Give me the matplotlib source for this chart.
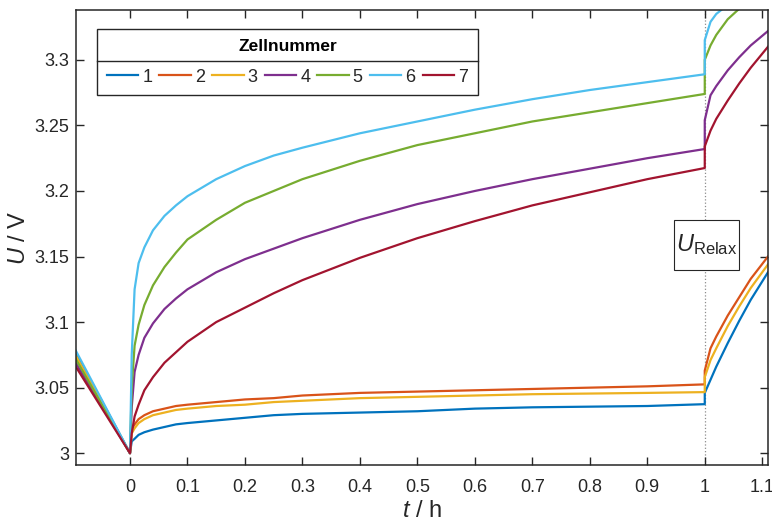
import matplotlib
matplotlib.use("Agg")
import matplotlib.pyplot as plt
from matplotlib.lines import Line2D
from matplotlib.patches import Rectangle

# time axis (h) shared by all cells; 1.0 appears twice for the jump at relaxation start
t = [-0.1, 0, 0.003, 0.008, 0.015, 0.025, 0.04, 0.06, 0.08, 0.1, 0.15, 0.2, 0.25, 0.3,
     0.4, 0.5, 0.6, 0.7, 0.8, 0.9, 1.0, 1.0, 1.01, 1.02, 1.04, 1.06, 1.08, 1.11]

u_cell1 = [3.081, 3.000, 3.009, 3.011, 3.014, 3.016, 3.018, 3.020, 3.022, 3.023, 3.025, 3.027,
           3.029, 3.030, 3.031, 3.032, 3.034, 3.035, 3.0355, 3.036, 3.0374, 3.046, 3.056, 3.066,
           3.084, 3.101, 3.117, 3.138]
u_cell2 = [3.077, 3.000, 3.018, 3.022, 3.026, 3.029, 3.032, 3.034, 3.036, 3.037, 3.039, 3.041,
           3.042, 3.044, 3.046, 3.047, 3.048, 3.049, 3.050, 3.051, 3.0525, 3.063, 3.080, 3.089,
           3.105, 3.119, 3.133, 3.150]
u_cell3 = [3.079, 3.000, 3.015, 3.019, 3.023, 3.026, 3.029, 3.031, 3.033, 3.034, 3.036, 3.037,
           3.039, 3.040, 3.042, 3.043, 3.044, 3.045, 3.0455, 3.046, 3.0466, 3.058, 3.071, 3.080,
           3.097, 3.112, 3.126, 3.144]
u_cell4 = [3.073, 3.000, 3.035, 3.062, 3.075, 3.088, 3.099, 3.110, 3.118, 3.125, 3.138, 3.148,
           3.156, 3.164, 3.178, 3.190, 3.200, 3.209, 3.217, 3.225, 3.232, 3.254, 3.273, 3.280,
           3.292, 3.302, 3.311, 3.322]
u_cell5 = [3.076, 3.000, 3.050, 3.082, 3.098, 3.113, 3.128, 3.142, 3.153, 3.163, 3.178, 3.191,
           3.200, 3.209, 3.223, 3.235, 3.244, 3.253, 3.260, 3.267, 3.274, 3.300, 3.311, 3.319,
           3.331, 3.339, 3.347, 3.357]
u_cell6 = [3.083, 3.000, 3.075, 3.125, 3.145, 3.157, 3.170, 3.181, 3.189, 3.196, 3.209, 3.219,
           3.227, 3.233, 3.244, 3.253, 3.262, 3.270, 3.277, 3.283, 3.289, 3.315, 3.329, 3.335,
           3.342, 3.348, 3.354, 3.362]
u_cell7 = [3.070, 3.000, 3.015, 3.028, 3.037, 3.048, 3.058, 3.069, 3.077, 3.085, 3.100, 3.111,
           3.122, 3.132, 3.149, 3.164, 3.177, 3.189, 3.199, 3.209, 3.2175, 3.234, 3.246, 3.255,
           3.269, 3.282, 3.294, 3.310]

cells = ["1", "2", "3", "4", "5", "6", "7"]
series = [u_cell1, u_cell2, u_cell3, u_cell4, u_cell5, u_cell6, u_cell7]
colors = ["#0072BD", "#D95319", "#EDB120", "#7E2F8E", "#77AC30", "#4DBEEE", "#A2142F"]

xticks = [0, 0.1, 0.2, 0.3, 0.4, 0.5, 0.6, 0.7, 0.8, 0.9, 1.0, 1.1]
xticklabels = ["0", "0.1", "0.2", "0.3", "0.4", "0.5", "0.6", "0.7", "0.8", "0.9", "1", "1.1"]
yticks = [3.0, 3.05, 3.1, 3.15, 3.2, 3.25, 3.3]
yticklabels = ["3", "3.05", "3.1", "3.15", "3.2", "3.25", "3.3"]

plt.rcParams["font.family"] = ["Liberation Sans", "DejaVu Sans"]
plt.rcParams["mathtext.fontset"] = "custom"
plt.rcParams["mathtext.rm"] = "Liberation Sans"
plt.rcParams["mathtext.it"] = "Liberation Sans:italic"

dark = "#262626"

fig = plt.figure(figsize=(7.72, 5.28), dpi=100)
ax = fig.add_axes([0.0984, 0.1193, 0.8964, 0.8617])

ax.axvline(1.0, color="#8c8c8c", linestyle=":", linewidth=0.9, zorder=1)

for name, u, c in zip(cells, series, colors):
    ax.plot(t, u, color=c, linewidth=1.6, label=name, zorder=2)

ax.set_xlim(-0.094, 1.11)
ax.set_ylim(2.991, 3.338)
ax.set_xticks(xticks)
ax.set_xticklabels(xticklabels)
ax.set_yticks(yticks)
ax.set_yticklabels(yticklabels)
ax.tick_params(direction="in", length=5.5, width=1.0, top=True, right=True,
               colors=dark, labelsize=13)
ax.tick_params(axis="x", pad=10)
ax.tick_params(axis="y", pad=5)
for sp in ax.spines.values():
    sp.set_color(dark)
    sp.set_linewidth(1.1)

ax.set_xlabel("$t$ / h", fontsize=17, color=dark, labelpad=3)
ax.set_ylabel("$U$ / V", fontsize=17, color=dark, labelpad=3)

# boxed marker for the relaxation voltage
ax.add_patch(Rectangle((0.864, 0.429), 0.094, 0.109, transform=ax.transAxes,
                       fc="white", ec=dark, lw=0.8, zorder=4))
ax.text(0.911, 0.4835, r"$U_{\mathrm{Relax}}$", transform=ax.transAxes, fontsize=17,
        color=dark, ha="center", va="center", zorder=5)

leg = ax.legend(ncol=7, loc="upper left", bbox_to_anchor=(0.030, 0.813, 0.551, 0.145),
                mode="expand", title="Zellnummer", fontsize=13,
                title_fontproperties={"weight": "bold", "size": 12.5},
                handlelength=1.75, handletextpad=0.22, borderpad=0.55, labelspacing=0.8,
                fancybox=False, framealpha=1.0, edgecolor=dark, borderaxespad=0)
leg.get_frame().set_linewidth(1.0)
for txt in leg.get_texts():
    txt.set_color(dark)

# horizontal rule between the legend title and its entries
fig.canvas.draw()
inv = fig.transFigure.inverted()
lb = leg.get_frame().get_window_extent()
tb = leg.get_title().get_window_extent()
eb = leg.get_texts()[0].get_window_extent()
ysep = (tb.y0 + eb.y1) / 2
(x0, y0) = inv.transform((lb.x0, ysep))
(x1, _) = inv.transform((lb.x1, ysep))
fig.add_artist(Line2D([x0, x1], [y0, y0], transform=fig.transFigure,
                      color=dark, linewidth=1.0, zorder=10))

fig.savefig("out.png", dpi=100)
